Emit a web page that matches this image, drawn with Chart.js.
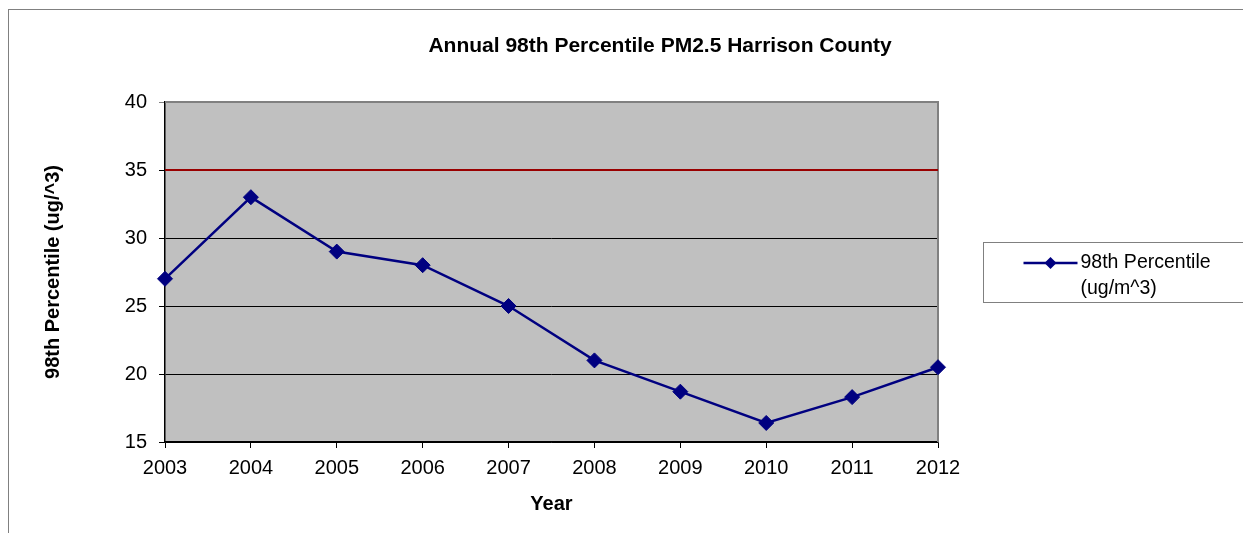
<!DOCTYPE html>
<html>
<head>
<meta charset="utf-8">
<script src="https://cdn.jsdelivr.net/npm/chart.js@4/dist/chart.umd.min.js"></script>
<style>
  html, body { margin: 0; padding: 0; background: #fff; }
  #wrap { width: 1243px; height: 533px; position: relative; }
</style>
</head>
<body>
<div id="wrap"><canvas id="pmChart"></canvas></div>
<script>
// data
const years = ['2003', '2004', '2005', '2006', '2007', '2008', '2009', '2010', '2011', '2012'];
const percentile98 = [27, 33, 29, 28, 25, 21, 18.7, 16.4, 18.3, 20.5];
const standardLevel = [35, 35, 35, 35, 35, 35, 35, 35, 35, 35];
const seriesLabel = ['98th Percentile', '(ug/m^3)'];
const chartTitle = 'Annual 98th Percentile PM2.5 Harrison County';

const FONT = "'Liberation Sans', Arial, sans-serif";
const NAVY = '#000080';
const RED = '#990000';
const GREY_LINE = '#808080';

// fond gris + bordure du graphique + cadre extérieur + titre + légende
const framePlugin = {
  id: 'frame',
  beforeDraw(chart) {
    const { ctx, chartArea: a } = chart;
    ctx.save();
    ctx.fillStyle = '#C0C0C0';
    ctx.fillRect(a.left, a.top, a.right - a.left, a.bottom - a.top);
    ctx.restore();
  },
  beforeDatasetsDraw(chart) {
    const { ctx, chartArea: a } = chart;
    ctx.save();
    ctx.strokeStyle = GREY_LINE;
    ctx.lineWidth = 2;
    ctx.beginPath();
    ctx.moveTo(a.left, a.top);
    ctx.lineTo(a.right, a.top);
    ctx.lineTo(a.right, a.bottom);
    ctx.stroke();
    ctx.restore();
  },
  afterDraw(chart) {
    const { ctx, chartArea: a } = chart;
    ctx.save();
    // outer frame
    ctx.strokeStyle = GREY_LINE;
    ctx.lineWidth = 1;
    ctx.strokeRect(8.5, 9.5, chart.width + 20, chart.height + 20);

    // title
    ctx.fillStyle = '#000';
    ctx.font = 'bold 21px ' + FONT;
    ctx.textAlign = 'center';
    ctx.textBaseline = 'middle';
    ctx.fillText(chartTitle, chart.width * 0.531, 46);

    // legend box
    const lx = a.right + 45.5, ly = 242.5;
    ctx.fillStyle = '#fff';
    ctx.fillRect(lx, ly, 300, 60);
    ctx.strokeRect(lx, ly, 300, 60);

    const my = ly + 20.5;
    ctx.strokeStyle = NAVY;
    ctx.lineWidth = 2.5;
    ctx.beginPath();
    ctx.moveTo(lx + 40, my);
    ctx.lineTo(lx + 94, my);
    ctx.stroke();
    const cx = lx + 67, r = 6;
    ctx.fillStyle = NAVY;
    ctx.beginPath();
    ctx.moveTo(cx - r, my);
    ctx.lineTo(cx, my - r);
    ctx.lineTo(cx + r, my);
    ctx.lineTo(cx, my + r);
    ctx.closePath();
    ctx.fill();

    ctx.fillStyle = '#000';
    ctx.font = '19.5px ' + FONT;
    ctx.textBaseline = 'middle';
    ctx.textAlign = 'left';
    seriesLabel.forEach((t, i) => ctx.fillText(t, lx + 97, my + i * 26));
    ctx.restore();
  }
};

const cfg = {
  type: 'line',
  data: {
    labels: years,
    datasets: [
      {
        label: seriesLabel.join(' '),
        data: percentile98,
        borderColor: NAVY,
        backgroundColor: NAVY,
        borderWidth: 2.5,
        pointStyle: 'rectRot',
        pointRadius: 7.5,
        pointBorderWidth: 1,
        pointHoverRadius: 7.5,
        tension: 0,
        clip: false
      },
      {
        label: 'Standard',
        data: standardLevel,
        borderColor: RED,
        borderWidth: 2,
        pointRadius: 0,
        pointHoverRadius: 0,
        tension: 0,
        clip: false
      }
    ]
  },
  options: {
    responsive: true,
    maintainAspectRatio: false,
    animation: false,
    layout: { padding: { left: 0, right: 305, top: 102, bottom: 0 } },
    plugins: {
      legend: { display: false },
      tooltip: { enabled: false },
      title: { display: false }
    },
    scales: {
      x: {
        offset: false,
        grid: { drawOnChartArea: false, drawTicks: true, tickLength: 6, color: '#000' },
        border: { display: true, color: '#000', width: 1.5 },
        ticks: { color: '#000', font: { family: FONT, size: 20 }, padding: 8, maxRotation: 0 },
        title: {
          display: true,
          text: 'Year',
          color: '#000',
          font: { family: FONT, size: 20, weight: 'bold' },
          padding: { top: 0, bottom: 17 }
        },
        afterFit(scale) { scale.height = 91; }
      },
      y: {
        min: 15,
        max: 40,
        ticks: { stepSize: 5, color: '#000', font: { family: FONT, size: 20 }, padding: 12 },
        grid: {
          color: (c) => (c.tick && c.tick.value === 40 ? GREY_LINE : '#000'),
          lineWidth: 1,
          tickLength: 6,
          drawTicks: true
        },
        border: { display: true, color: '#000', width: 1.5 },
        title: {
          display: true,
          text: '98th Percentile (ug/^3)',
          color: '#000',
          font: { family: FONT, size: 20, weight: 'bold' },
          padding: { top: 41, bottom: 0 }
        },
        afterFit(scale) { scale.width = 165; }
      }
    }
  },
  plugins: [framePlugin]
};

new Chart(document.getElementById('pmChart'), cfg);
</script>
</body>
</html>
